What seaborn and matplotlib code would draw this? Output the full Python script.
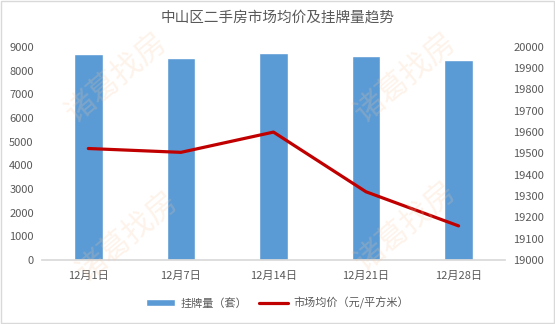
import matplotlib
matplotlib.use("Agg")
import matplotlib.pyplot as plt
import seaborn as sns
import pandas as pd
from matplotlib.patches import Patch
from matplotlib.lines import Line2D

dates = ["12月1日", "12月7日", "12月14日", "12月21日", "12月28日"]
listings = [8700, 8530, 8740, 8620, 8450]
prices = [19523, 19505, 19600, 19320, 19160]
title = "中山区二手房市场均价及挂牌量趋势"
bar_label = "挂牌量（套）"
line_label = "市场均价（元/平方米）"

sns.set_theme(style="white")
plt.rcParams['font.family'] = ['Noto Sans CJK SC', 'DejaVu Sans']

df = pd.DataFrame({"date": dates, "listings": listings, "price": prices})

fig = plt.figure(figsize=(5.55, 3.24), dpi=100)
ax = fig.add_axes([0.0757, 0.1975, 0.834, 0.658])
sns.barplot(data=df, x="date", y="listings", color="#5B9BD5", width=0.31,
            saturation=1, ax=ax)
ax.set_ylim(0, 9000)
ax.set_yticks(range(0, 9001, 1000))
ax.set_xlim(-0.5, 4.5)
ax.set_xlabel("")
ax.set_ylabel("")

ax2 = ax.twinx()
sns.lineplot(x=list(range(len(dates))), y=prices, ax=ax2, color="#C00000",
             linewidth=2.3, sort=False)
ax2.set_ylim(19000, 20000)
ax2.set_yticks(range(19000, 20001, 100))
ax2.set_xlim(-0.5, 4.5)

grey = "#595959"
for a in (ax, ax2):
    for s in ("top", "left", "right"):
        a.spines[s].set_visible(False)
    a.spines["bottom"].set_color("#D9D9D9")
    a.tick_params(axis="both", length=0, labelsize=8, colors=grey, pad=6)
ax2.spines["bottom"].set_visible(False)
ax.tick_params(axis="x", pad=8)

# faint watermark
for (x, y) in [(0.21, 0.76), (0.73, 0.76), (0.23, 0.27), (0.73, 0.3)]:
    fig.text(x, y, "诸葛找房", fontsize=22, color="#F8C9A0", alpha=0.22,
             rotation=40, ha="center", va="center", zorder=0)

fig.text(0.5, 0.945, title, ha="center", va="center", fontsize=10.5, color=grey)

handles = [Patch(facecolor="#5B9BD5", label=bar_label),
           Line2D([0], [0], color="#C00000", linewidth=2.3, label=line_label)]
fig.legend(handles=handles, loc="center", bbox_to_anchor=(0.5, 0.065), ncol=2,
           frameon=False, fontsize=8, labelcolor=grey, handlelength=2.6,
           handleheight=0.6, columnspacing=1.0, handletextpad=0.5)

border = plt.Rectangle((0.002, 0.003), 0.996, 0.994, transform=fig.transFigure,
                       fill=False, edgecolor="#D9D9D9", linewidth=1)
fig.add_artist(border)

fig.savefig("out.png", dpi=100)
